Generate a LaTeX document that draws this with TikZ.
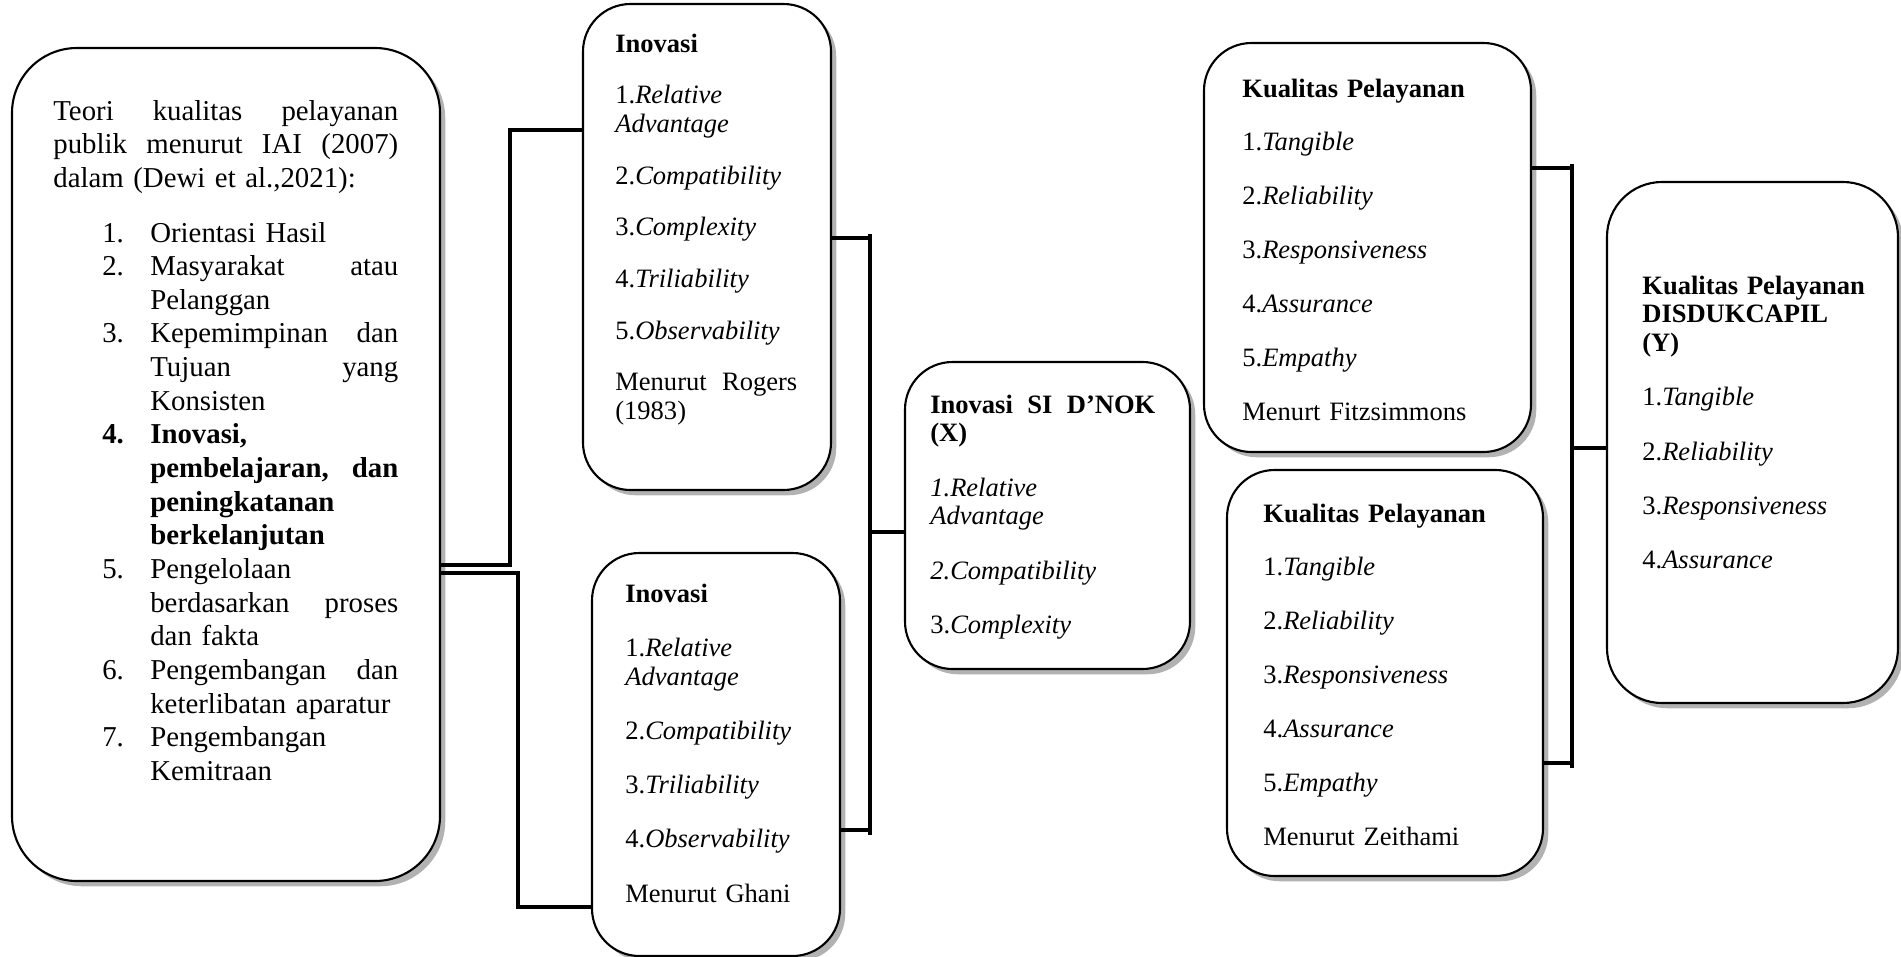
\documentclass[tikz,border=0pt]{standalone}
\usepackage{fontspec}
\setmainfont{Liberation Serif}
\usepackage{tikz}
\usetikzlibrary{fit}
\usetikzlibrary{shadows}
\usetikzlibrary{positioning}

\newcommand{\numA}[1]{\hspace*{0.98cm}\makebox[0.96cm][l]{#1}}
\newcommand{\indA}{\hspace*{1.94cm}}

\begin{document}
\begin{tikzpicture}[
    x=0.02cm, y=-0.02cm,
    box/.style={draw, line width=1.2pt, fill=white, inner sep=0pt,
      rounded corners=0.95cm,
      drop shadow={shadow xshift=3pt, shadow yshift=-3pt, fill=black, opacity=0.3}},
    bigbox/.style={box, rounded corners=1.3cm},
    txt/.style={anchor=base west, inner sep=0pt, align=left, text width=4.6cm,
      font=\fontsize{15.1}{16.4}\selectfont},
    bigtxt/.style={txt, text width=6.95cm, font=\fontsize{16.4}{19.15}\selectfont},
    link/.style={line width=2.2pt},
  ]
  \useasboundingbox (0,0) rectangle (1901,957);

  % Boxes
  \node[bigbox, fit={(12,48) (440,881)}]  (A)  {};
  \node[box, fit={(583,4) (831,490)}]     (B1) {};
  \node[box, fit={(592,553) (840,956)}]   (B2) {};
  \node[box, fit={(905,362) (1190,669)}]  (X)  {};
  \node[box, fit={(1204,43) (1531,452)}]  (C1) {};
  \node[box, fit={(1227,470) (1543,876)}] (C2) {};
  \node[box, rounded corners=1.1cm, fit={(1607,182) (1898,703)}] (Y) {};

  % Texts
  \node[bigtxt] (At) at (53,120) {%
    \makebox[6.9cm][s]{Teori\hfill kualitas\hfill pelayanan}\\
    \makebox[6.9cm][s]{publik\hfill menurut\hfill IAI\hfill (2007)}\\
    dalam (Dewi et al.,2021):\\[12pt]
    \numA{1.}Orientasi Hasil\\
    \numA{2.}\makebox[4.96cm][s]{Masyarakat\hfill atau}\\
    \indA Pelanggan\\
    \numA{3.}\makebox[4.96cm][s]{Kepemimpinan\hfill dan}\\
    \indA\makebox[4.96cm][s]{Tujuan\hfill yang}\\
    \indA Konsisten\\
    \numA{\textbf{4.}}\textbf{Inovasi,}\\
    \indA\makebox[4.96cm][s]{\textbf{pembelajaran,}\hfill\textbf{dan}}\\
    \indA\textbf{peningkatanan}\\
    \indA\textbf{berkelanjutan}\\
    \numA{5.}Pengelolaan\\
    \indA\makebox[4.96cm][s]{berdasarkan\hfill proses}\\
    \indA dan fakta\\
    \numA{6.}\makebox[4.96cm][s]{Pengembangan\hfill dan}\\
    \indA keterlibatan aparatur\\
    \numA{7.}Pengembangan\\
    \indA Kemitraan};

  \node[txt] (B1t) at (615,52) {%
    \textbf{Inovasi}\\[13pt]
    1.\textit{Relative}\\
    \textit{Advantage}\\[13pt]
    2.\textit{Compatibility}\\[13pt]
    3.\textit{Complexity}\\[13pt]
    4.\textit{Triliability}\\[13pt]
    5.\textit{Observability}\\[13pt]
    \makebox[3.64cm][s]{Menurut\hfill Rogers}\\
    (1983)};

  \node[txt] (B2t) at (625,602) {%
    \textbf{Inovasi}\\[14.5pt]
    1.\textit{Relative}\\
    \textit{Advantage}\\[14.5pt]
    2.\textit{Compatibility}\\[14.5pt]
    3.\textit{Triliability}\\[14.5pt]
    4.\textit{Observability}\\[14.5pt]
    Menurut Ghani};

  \node[txt] (Xt) at (930,413) {%
    \makebox[4.5cm][s]{\textbf{Inovasi}\hfill\textbf{SI}\hfill\textbf{D’NOK}}\\
    \textbf{(X)}\\[14.5pt]
    \textit{1.Relative}\\
    \textit{Advantage}\\[14.5pt]
    \textit{2.Compatibility}\\[14.5pt]
    3.\textit{Complexity}};

  \node[txt] (C1t) at (1242,97) {%
    \textbf{Kualitas Pelayanan}\\[14.3pt]
    1.\textit{Tangible}\\[14.3pt]
    2.\textit{Reliability}\\[14.3pt]
    3.\textit{Responsiveness}\\[14.3pt]
    4.\textit{Assurance}\\[14.3pt]
    5.\textit{Empathy}\\[14.3pt]
    Menurt Fitzsimmons};

  \node[txt] (C2t) at (1263,522) {%
    \textbf{Kualitas Pelayanan}\\[14.3pt]
    1.\textit{Tangible}\\[14.3pt]
    2.\textit{Reliability}\\[14.3pt]
    3.\textit{Responsiveness}\\[14.3pt]
    4.\textit{Assurance}\\[14.3pt]
    5.\textit{Empathy}\\[14.3pt]
    Menurut Zeithami};

  \node[txt] (Yt) at (1642,294) {%
    \textbf{Kualitas Pelayanan}\\
    \textbf{DISDUKCAPIL}\\
    \textbf{(Y)}\\[14.5pt]
    1.\textit{Tangible}\\[14.5pt]
    2.\textit{Reliability}\\[14.5pt]
    3.\textit{Responsiveness}\\[14.5pt]
    4.\textit{Assurance}};

  % Bus points
  \coordinate (xtop) at (870,234);
  \coordinate (xbot) at (870,835);
  \coordinate (ytop) at (1572,164);
  \coordinate (ybot) at (1572,768);

  % Connectors
  \draw[link] (A.east |- 0,565) -| (510,130) -- (B1.west |- 0,130);
  \draw[link] (A.east |- 0,573) -| (518,907) -- (B2.west |- 0,907);
  \draw[link] (xtop) -- (xbot);
  \draw[link] (B1.east |- 0,238) -- (xtop |- 0,238);
  \draw[link] (B2.east |- 0,830) -- (xtop |- 0,830);
  \draw[link] (xtop |- 0,532) -- (X.west |- 0,532);
  \draw[link] (ytop) -- (ybot);
  \draw[link] (C1.east |- 0,168) -- (ytop |- 0,168);
  \draw[link] (C2.east |- 0,763) -- (ytop |- 0,763);
  \draw[link] (ytop |- 0,448) -- (Y.west |- 0,448);

\end{tikzpicture}
\end{document}
